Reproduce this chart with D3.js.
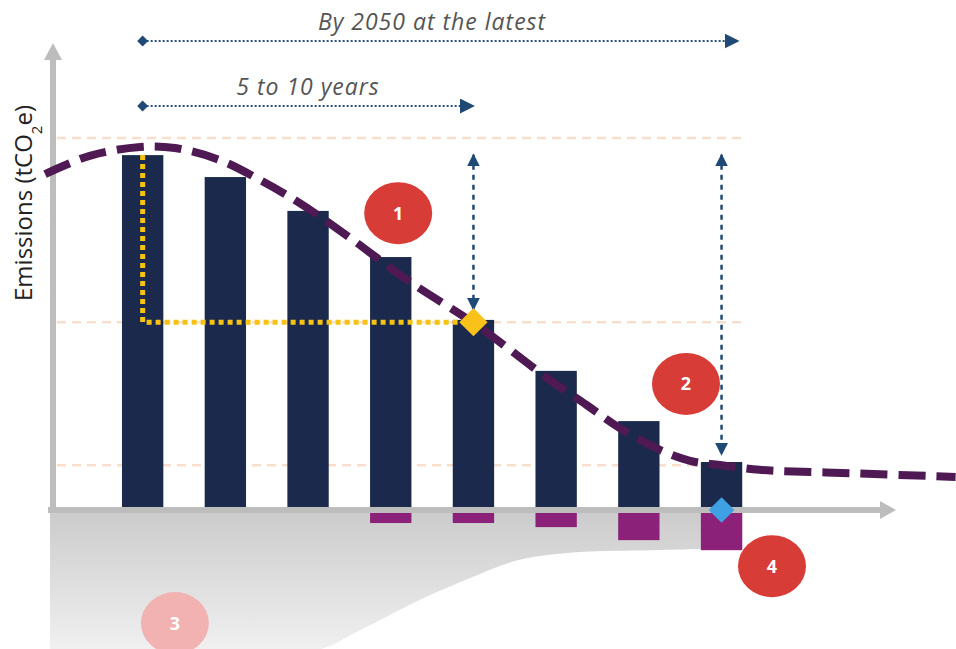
<!DOCTYPE html>
<html>
<head>
<meta charset="utf-8">
<script src="https://cdn.jsdelivr.net/npm/d3@7"></script>
<style>
  body { margin: 0; background: #fff; }
  svg { display: block; font-family: "Open Sans", Lato, sans-serif; }
</style>
</head>
<body>
<svg id="chart" width="956" height="649"></svg>
<script>
// periods and values (emissions units, 100 = first gridline)
const periods = [1, 2, 3, 4, 5, 6, 7, 8];
const emissions = [95.4, 89.5, 80.4, 68.0, 51.1, 37.4, 23.9, 12.9];
const removals = [0, 0, 0, 3.5, 3.5, 4.6, 8.1, 10.8];
const gridValues = [100, 50.5, 12];

// dashed trajectory, t = period index from first bar
const trajT = [-1.18, -0.64, -0.03, 0.39, 0.93, 1.42, 1.90, 2.51, 3.20, 4.00, 4.40, 4.89, 5.37, 5.77, 6.26, 6.62, 6.98, 7.46, 8.55, 9.83];
const trajV = [90.3, 95.2, 97.6, 97.3, 94.1, 88.7, 82.5, 73.1, 61.8, 50.3, 43.8, 35.5, 28.2, 22.0, 16.1, 13.2, 12.1, 10.8, 9.9, 8.9];

// lower edge of grey zone below axis
const floorT = [7.25, 6.14, 5.29, 4.56, 3.96, 3.35, 2.63, 2.02, -1.12];
const floorV = [-10.2, -10.8, -11.3, -13.4, -18.3, -24.2, -32.3, -38.2, -38.2];

const spanLabels = ["By 2050 at the latest", "5 to 10 years"];
const spanEndT = [7.2, 4];
const badgeLabels = ["1", "2", "3", "4"];
const badgeT = [3.09, 6.57, 0.39, 7.61];
const badgeV = [79.8, 33.9, -30.4, -15.1];

const svg = d3.select("#chart");

const xb = d3.scaleBand().domain(periods).range([101.3, 762.9])
  .paddingInner(0.5).paddingOuter(0.25);
const bw = xb.bandwidth();
const xT = d3.scaleLinear().domain([0, 7])
  .range([xb(periods[0]) + bw / 2, xb(periods[7]) + bw / 2]);
const y = d3.scaleLinear().domain([0, 100]).range([510, 138]);

const defs = svg.append("defs");
const grad = defs.append("linearGradient").attr("id", "greyfade")
  .attr("x1", 0).attr("y1", 0).attr("x2", 0).attr("y2", 1);
grad.append("stop").attr("offset", "0%").attr("stop-color", "#cbcbcb");
grad.append("stop").attr("offset", "100%").attr("stop-color", "#f2f2f2");

function marker(id, color, w, h) {
  defs.append("marker").attr("id", id)
    .attr("viewBox", "0 0 10 10").attr("refX", 9).attr("refY", 5)
    .attr("markerUnits", "userSpaceOnUse")
    .attr("markerWidth", w).attr("markerHeight", h)
    .attr("orient", "auto-start-reverse")
    .append("path").attr("d", "M0,0 L10,5 L0,10 Z").attr("fill", color);
}
marker("navyHead", "#1f4a75", 15, 15);
marker("navyHeadSm", "#1f4a75", 13, 13);

// grey zone below the x axis
const floorPts = floorT.map((t, i) => [xT(t), y(floorV[i])]);
svg.append("path")
  .attr("d", `M${xT(-1.12)},${y(0)}L${xT(7.25)},${y(0)}L` +
    d3.line().curve(d3.curveCatmullRom)(floorPts).slice(1) + "Z")
  .attr("fill", "url(#greyfade)");

// gridlines
svg.append("g").selectAll("line").data(gridValues).join("line")
  .attr("x1", 57).attr("x2", xT(7) + bw / 2)
  .attr("y1", d => y(d)).attr("y2", d => y(d))
  .attr("stroke", "#f8dfcd").attr("stroke-width", 2.5)
  .attr("stroke-dasharray", "9,6");

// emission bars
svg.append("g").selectAll("rect").data(periods).join("rect")
  .attr("x", d => xb(d)).attr("width", bw)
  .attr("y", (d, i) => y(emissions[i]))
  .attr("height", (d, i) => y(0) - y(emissions[i]))
  .attr("fill", "#1b2a4c");

// removals below axis
svg.append("g").selectAll("rect").data(periods.filter((d, i) => removals[i] > 0)).join("rect")
  .attr("x", d => xb(d)).attr("width", bw)
  .attr("y", y(0))
  .attr("height", d => y(-removals[d - 1]) - y(0))
  .attr("fill", "#8c2179");

// axes
svg.append("line").attr("x1", 48).attr("x2", 882).attr("y1", y(0)).attr("y2", y(0))
  .attr("stroke", "#bdbdbd").attr("stroke-width", 6);
svg.append("path").attr("d", `M880,${y(0) - 9} L896,${y(0)} L880,${y(0) + 9} Z`).attr("fill", "#bdbdbd");
svg.append("line").attr("x1", 53).attr("x2", 53).attr("y1", 58).attr("y2", y(0) + 3)
  .attr("stroke", "#bdbdbd").attr("stroke-width", 6);
svg.append("path").attr("d", "M44,60 L53,43 L62,60 Z").attr("fill", "#bdbdbd");

// yellow dotted guide
svg.append("path")
  .attr("d", `M${xT(0)},${y(emissions[0])} L${xT(0)},${y(gridValues[1])} L${xT(4)},${y(gridValues[1])}`)
  .attr("fill", "none").attr("stroke", "#f6c312").attr("stroke-width", 5)
  .attr("stroke-dasharray", "5,4");

// dashed trajectory
svg.append("path")
  .datum(trajT.map((t, i) => [xT(t), y(trajV[i])]))
  .attr("d", d3.line().curve(d3.curveCatmullRom))
  .attr("fill", "none").attr("stroke", "#4f1953").attr("stroke-width", 8)
  .attr("stroke-dasharray", "27,11");

// vertical double arrows
const vArrows = [[4, 95.5, gridValues[1] + 3.4], [7, 95.5, emissions[7] + 2]];
svg.append("g").selectAll("line").data(vArrows).join("line")
  .attr("x1", d => xT(d[0])).attr("x2", d => xT(d[0]))
  .attr("y1", d => y(d[1])).attr("y2", d => y(d[2]))
  .attr("stroke", "#1f4a75").attr("stroke-width", 2.5)
  .attr("stroke-dasharray", "5,5")
  .attr("marker-start", "url(#navyHeadSm)").attr("marker-end", "url(#navyHeadSm)");

// diamonds
svg.append("path").attr("d", d3.symbol(d3.symbolSquare, 400)())
  .attr("transform", `translate(${xT(4)},${y(gridValues[1])}) rotate(45)`)
  .attr("fill", "#f8c21a");
svg.append("path").attr("d", d3.symbol(d3.symbolSquare, 330)())
  .attr("transform", `translate(${xT(7)},${y(0)}) rotate(45)`)
  .attr("fill", "#3fa0e4");

// horizontal span arrows
const rows = [41, 106];
const spans = svg.append("g");
spanLabels.forEach((label, i) => {
  spans.append("line")
    .attr("x1", xT(0)).attr("x2", xT(spanEndT[i]))
    .attr("y1", rows[i]).attr("y2", rows[i])
    .attr("stroke", "#2a5580").attr("stroke-width", 2)
    .attr("stroke-dasharray", "2,2")
    .attr("marker-end", "url(#navyHead)");
  spans.append("path").attr("d", d3.symbol(d3.symbolSquare, 60)())
    .attr("transform", `translate(${xT(0)},${rows[i]}) rotate(45)`)
    .attr("fill", "#1f4a75");
  spans.append("text")
    .attr("x", i === 0 ? 432 : 308).attr("y", rows[i] - 11)
    .attr("text-anchor", "middle").attr("font-style", "italic")
    .attr("font-size", 23).attr("letter-spacing", 1).attr("fill", "#555")
    .text(label);
});

// numbered badges
const badges = svg.append("g").selectAll("g").data(badgeLabels).join("g")
  .attr("transform", (d, i) => `translate(${xT(badgeT[i])},${y(badgeV[i])})`);
badges.append("ellipse").attr("rx", 34).attr("ry", 31)
  .attr("fill", d => d === "3" ? "#f2b2b2" : "#d83c37");
badges.append("text").attr("text-anchor", "middle").attr("dy", "0.36em")
  .attr("font-size", 18).attr("font-weight", 700).attr("fill", "#fff")
  .text(d => d);

// y axis label
const yl = svg.append("text")
  .attr("transform", "translate(32,203) rotate(-90)")
  .attr("text-anchor", "middle").attr("font-size", 24).attr("fill", "#222");
yl.append("tspan").text("Emissions (tCO");
yl.append("tspan").attr("font-size", 15).attr("baseline-shift", "sub").text("2");
yl.append("tspan").text("e)");
</script>
</body>
</html>
